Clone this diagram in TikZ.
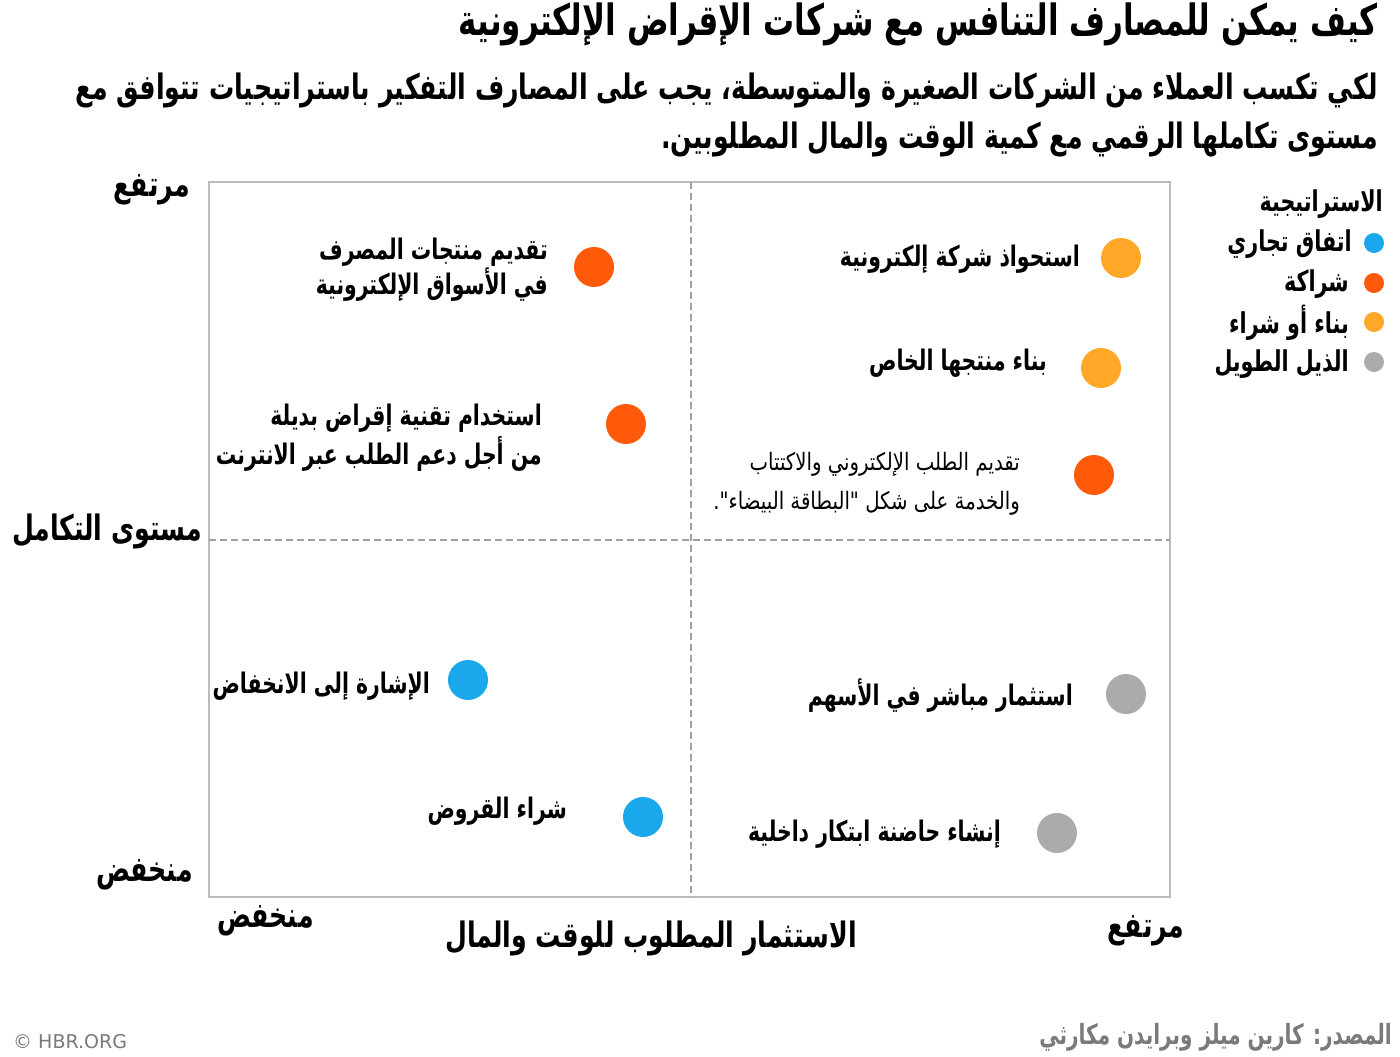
\documentclass[tikz,border=0pt]{standalone}
\usepackage{fontspec}
\TeXXeTstate=1
\setmainfont{DejaVu Sans}
\newfontfamily\arabicfont[Script=Arabic,FakeStretch=0.72]{DejaVu Sans}
\newfontfamily\arabicwide[Script=Arabic,FakeStretch=0.82]{DejaVu Sans}
\newcommand{\ar}[1]{{\arabicfont\beginR #1\endR}}
\newcommand{\arw}[1]{{\arabicwide\beginR #1\endR}}
\definecolor{dealblue}{HTML}{1AA7EC}
\definecolor{partnerred}{HTML}{FF5A0A}
\definecolor{buildorange}{HTML}{FFA726}
\definecolor{tailgray}{HTML}{ABABAB}
\definecolor{framegray}{HTML}{BBBBBB}
\definecolor{gridgray}{HTML}{A0A0A0}
\definecolor{notegray}{HTML}{7A7A7A}
\tikzset{
  stratdot/.style={circle, fill=#1, minimum size=40pt, inner sep=0pt},
  keydot/.style={circle, fill=#1, minimum size=20pt, inner sep=0pt},
  lbl/.style={anchor=east, align=right, inner sep=0pt, font=\fontsize{28.3}{37}\selectfont\bfseries},
  axislbl/.style={inner sep=0pt, font=\fontsize{35}{40}\selectfont\bfseries},
  keylbl/.style={anchor=east, inner sep=0pt, font=\fontsize{28.7}{32}\selectfont\bfseries}
}
\begin{document}
\begin{tikzpicture}[x=1pt, y=-1pt]
  \useasboundingbox[fill=white] (0,0) rectangle (1400,1057);
  % Header
  \node (title) [anchor=east, inner sep=0pt, font=\fontsize{43}{48}\selectfont\bfseries] at (1378,24) {\ar{كيف يمكن للمصارف التنافس مع شركات الإقراض الإلكترونية}};
  \node (sub1) [anchor=east, inner sep=0pt, font=\fontsize{35}{40}\selectfont\bfseries] at (1378,91) {\ar{لكي تكسب العملاء من الشركات الصغيرة والمتوسطة، يجب على المصارف التفكير باستراتيجيات تتوافق مع}};
  \node (sub2) [anchor=east, inner sep=0pt, font=\fontsize{35}{40}\selectfont\bfseries] at (1378,139) {\ar{مستوى تكاملها الرقمي مع كمية الوقت والمال المطلوبين.}};
  % Frame
  \draw[framegray, line width=2pt] (209,182) rectangle (1170,897);
  \draw[gridgray, dash pattern=on 7pt off 4pt, line width=1.2pt] (691,182) -- (691,897);
  \draw[gridgray, dash pattern=on 7pt off 4pt, line width=1.2pt] (209,540) -- (1170,540);
  % Axes
  \node (yhigh) [axislbl, anchor=east] at (190,190) {\ar{مرتفع}};
  \node (ytitle) [axislbl, anchor=east] at (202,531) {\ar{مستوى التكامل}};
  \node (ylow) [axislbl, anchor=east] at (193,875) {\ar{منخفض}};
  \node (xlow) [axislbl, anchor=west] at (217,921) {\ar{منخفض}};
  \node (xtitle) [axislbl] at (651,938) {\ar{الاستثمار المطلوب للوقت والمال}};
  \node (xhigh) [axislbl, anchor=east] at (1184,931) {\ar{مرتفع}};
  % Legend
  \node (keyhead) [keylbl] at (1383,204) {\ar{الاستراتيجية}};
  \node (kdeal) [keydot=dealblue] at (1374,243) {};
  \node (kpart) [keydot=partnerred] at (1374,283) {};
  \node (kbuild) [keydot=buildorange] at (1374,322) {};
  \node (ktail) [keydot=tailgray] at (1374,362) {};
  \node [keylbl] at (1352,244) {\ar{اتفاق تجاري}};
  \node [keylbl] at (1349,284) {\ar{شراكة}};
  \node [keylbl] at (1349,323) {\ar{بناء أو شراء}};
  \node [keylbl] at (1349,364) {\ar{الذيل الطويل}};
  % Strategies
  \node (p1) [stratdot=partnerred] at (594,267) {};
  \node (p2) [stratdot=partnerred] at (626,424) {};
  \node (p3) [stratdot=partnerred] at (1094,475) {};
  \node (b1) [stratdot=buildorange] at (1121,258) {};
  \node (b2) [stratdot=buildorange] at (1101,368) {};
  \node (d1) [stratdot=dealblue] at (468,680) {};
  \node (d2) [stratdot=dealblue] at (643,817) {};
  \node (t1) [stratdot=tailgray] at (1126,694) {};
  \node (t2) [stratdot=tailgray] at (1057,833) {};
  \node [lbl, font=\fontsize{28.3}{33}\selectfont\bfseries] at (548,270) {\ar{تقديم منتجات المصرف}\\\ar{في الأسواق الإلكترونية}};
  \node [lbl, font=\fontsize{28.3}{39}\selectfont\bfseries] at (542,438) {\ar{استخدام تقنية إقراض بديلة}\\\ar{من أجل دعم الطلب عبر الانترنت}};
  \node [lbl, font=\fontsize{24}{39}\selectfont] at (1020,484) {\arw{تقديم الطلب الإلكتروني والاكتتاب}\\\arw{والخدمة على شكل "البطاقة البيضاء".}};
  \node [lbl] at (1080,259) {\ar{استحواذ شركة إلكترونية}};
  \node [lbl] at (1047,363) {\ar{بناء منتجها الخاص}};
  \node [lbl] at (430,686) {\ar{الإشارة إلى الانخفاض}};
  \node [lbl] at (567,811) {\ar{شراء القروض}};
  \node [lbl] at (1073,696) {\ar{استثمار مباشر في الأسهم}};
  \node [lbl] at (1001,834) {\ar{إنشاء حاضنة ابتكار داخلية}};
  % Footer
  \node (source) [anchor=east, inner sep=0pt, text=notegray, font=\fontsize{27.8}{30}\selectfont\bfseries] at (1392,1037) {\ar{المصدر: كارين ميلز وبرايدن مكارثي}};
  \node (hbr) [anchor=west, inner sep=0pt, text=notegray, font=\fontsize{19}{22}\selectfont] at (13,1042) {© HBR.ORG};
\end{tikzpicture}
\end{document}
